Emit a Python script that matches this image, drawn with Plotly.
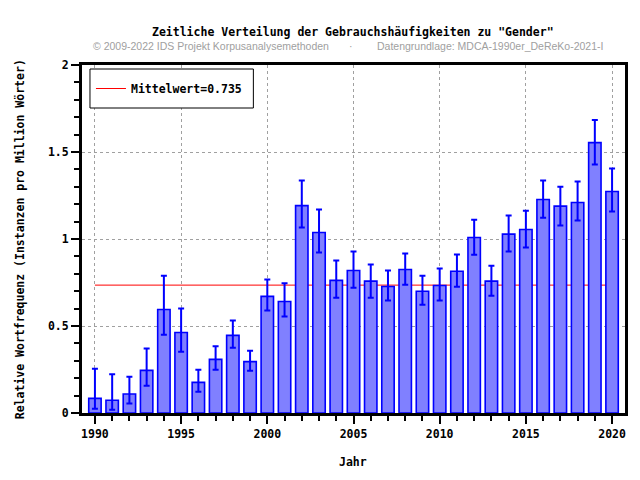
import plotly.graph_objects as go

# Gebrauchshaeufigkeiten "Gender" pro Jahr
years = list(range(1990, 2021))
freq = [0.084, 0.073, 0.109, 0.245, 0.595, 0.463, 0.176, 0.308, 0.446, 0.295,
        0.670, 0.641, 1.192, 1.037, 0.762, 0.819, 0.758, 0.727, 0.825, 0.700,
        0.733, 0.815, 1.009, 0.758, 1.028, 1.055, 1.227, 1.189, 1.210, 1.554,
        1.273]
ci_high = [0.255, 0.222, 0.209, 0.371, 0.789, 0.601, 0.249, 0.383, 0.532, 0.358,
           0.767, 0.745, 1.336, 1.169, 0.877, 0.928, 0.854, 0.819, 0.917, 0.789,
           0.831, 0.911, 1.110, 0.846, 1.135, 1.162, 1.336, 1.301, 1.330, 1.684,
           1.405]
ci_low = [0.025, 0.019, 0.054, 0.157, 0.450, 0.352, 0.122, 0.249, 0.375, 0.243,
          0.589, 0.555, 1.066, 0.922, 0.662, 0.720, 0.662, 0.647, 0.737, 0.622,
          0.647, 0.725, 0.909, 0.674, 0.928, 0.951, 1.122, 1.078, 1.106, 1.428,
          1.158]
mean_value = 0.735

title_text = 'Zeitliche Verteilung der Gebrauchshäufigkeiten zu "Gender"'
copyright_text = "© 2009-2022 IDS Projekt Korpusanalysemethoden"
source_text = "Datengrundlage: MDCA-1990er_DeReKo-2021-I"

mono = dict(family="DejaVu Sans Mono", size=11.5, color="black", weight="bold")

err_plus = [h - v for h, v in zip(ci_high, freq)]
err_minus = [v - l for v, l in zip(freq, ci_low)]

fig = go.Figure()
fig.add_trace(go.Bar(
    x=years, y=freq, width=0.72,
    marker=dict(color="#8080ff", line=dict(color="#0000ff", width=1.6)),
    error_y=dict(type="data", symmetric=False, array=err_plus, arrayminus=err_minus,
                 color="#0000ff", thickness=2, width=3),
    showlegend=False,
))

# mean line behind the bars, also shown in the legend
fig.add_shape(type="line", xref="x", yref="y", x0=years[0], x1=years[-1],
              y0=mean_value, y1=mean_value, layer="between",
              line=dict(color="red", width=1),
              showlegend=True, name="Mittelwert=%.3f" % mean_value)

W, H = 640, 480
L, R, T, B = 82, 13, 65, 67
pw, ph = W - L - R, H - T - B

def px_x(x):
    return (x - L) / pw

def px_y(y):
    return (H - B - y) / ph

# legend frame (drawn as a box so it matches the reference size)
fig.add_shape(type="rect", xref="paper", yref="paper",
              x0=px_x(90), x1=px_x(254), y0=px_y(108), y1=px_y(69),
              fillcolor="white", line=dict(color="black", width=1), layer="above")

axis_common = dict(showline=True, linecolor="black", linewidth=3, mirror=True,
                   ticks="outside", ticklen=8, tickwidth=2, tickcolor="black",
                   showgrid=True, gridcolor="#a0a0a0", griddash="dot", gridwidth=1,
                   zeroline=False, tickfont=mono)

fig.update_layout(
    width=W, height=H,
    margin=dict(l=L, r=R, t=T, b=B),
    paper_bgcolor="white", plot_bgcolor="white",
    xaxis=dict(range=[1989.25, 2020.75], tick0=1990, dtick=5,
               minor=dict(dtick=1, ticks="outside", ticklen=5, tickwidth=2,
                          tickcolor="black", showgrid=False),
               **axis_common),
    yaxis=dict(range=[0, 2], tick0=0, dtick=0.5,
               minor=dict(dtick=0.1, ticks="outside", ticklen=5, tickwidth=2,
                          tickcolor="black", showgrid=False),
               **axis_common),
    legend=dict(x=px_x(91), y=px_y(88.5), xanchor="left", yanchor="middle",
                bgcolor="rgba(0,0,0,0)", borderwidth=0, font=mono),
    showlegend=True,
)

fig.add_annotation(text=title_text, xref="paper", yref="paper",
                   x=px_x(354), y=px_y(32), showarrow=False, font=mono,
                   xanchor="center", yanchor="middle")
gray = dict(family="Liberation Sans", size=10.5, color="#a0a0a0")
fig.add_annotation(text=copyright_text, xref="paper", yref="paper",
                   x=px_x(332), y=px_y(46), showarrow=False, font=gray,
                   xanchor="right", yanchor="middle")
fig.add_annotation(text="·", xref="paper", yref="paper",
                   x=px_x(352), y=px_y(46), showarrow=False, font=gray,
                   xanchor="center", yanchor="middle")
fig.add_annotation(text=source_text, xref="paper", yref="paper",
                   x=px_x(376), y=px_y(46), showarrow=False, font=gray,
                   xanchor="left", yanchor="middle")
fig.add_annotation(text="Jahr", xref="paper", yref="paper",
                   x=px_x(354), y=px_y(462), showarrow=False, font=mono,
                   xanchor="center", yanchor="middle")
fig.add_annotation(text="Relative Wortfrequenz (Instanzen pro Million Wörter)",
                   xref="paper", yref="paper", x=px_x(20), y=px_y(239),
                   showarrow=False, font=mono, textangle=-90,
                   xanchor="center", yanchor="middle")

fig.write_html("out.html", config={"displayModeBar": False},
               post_script="document.body.style.margin='0px';")
